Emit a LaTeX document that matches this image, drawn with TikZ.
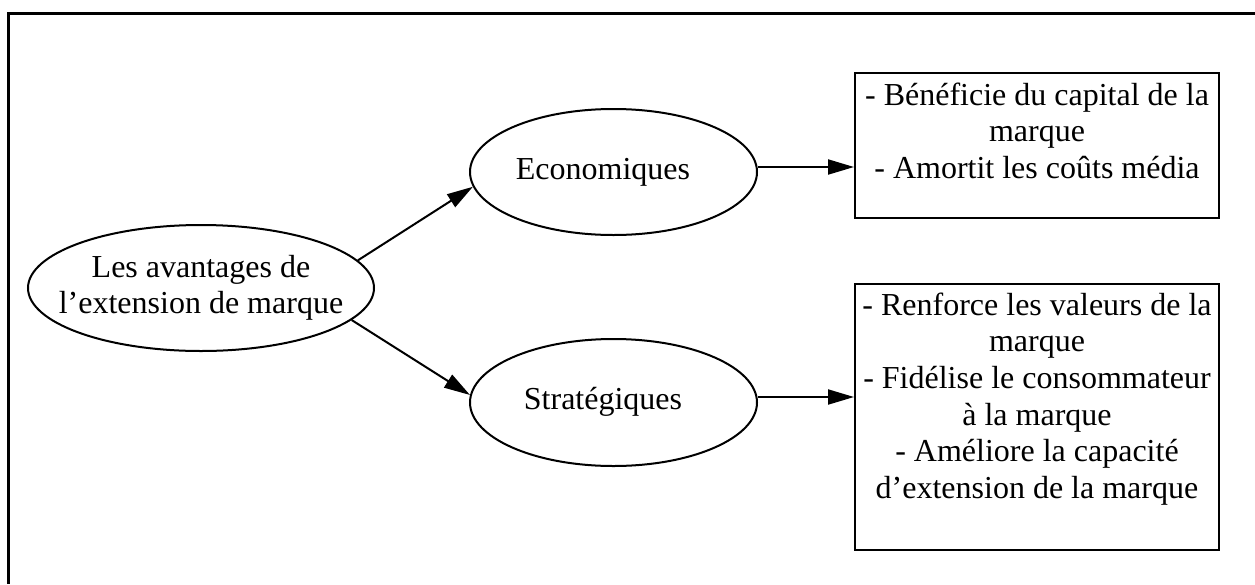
\documentclass[tikz,border=0pt]{standalone}
\usepackage{fontspec}
\setmainfont{Liberation Serif}
\usetikzlibrary{arrows.meta,shapes.geometric}
\begin{document}
\begin{tikzpicture}[x=1pt,y=-1pt,
  every node/.style={font=\fontsize{32}{36.6}\selectfont},
  oval/.style={ellipse, draw, line width=2pt, inner sep=0pt, align=center},
  boxframe/.style={rectangle, draw, line width=2pt, minimum width=364pt, anchor=north west, inner sep=0pt},
  boxtext/.style={anchor=north, align=center, inner sep=0pt},
  arr/.style={line width=2pt, -{Triangle[length=26pt,width=15pt]}},
  frame/.style={line width=3pt}
]
\useasboundingbox (0,0) rectangle (1255,584);
% outer frame (only top and left edges are visible)
\draw[frame] (1255,13) -- (8,13) -- (8,584);

% ellipses
\node[oval, inner xsep=-30pt, minimum width=346pt, minimum height=126pt] (L) at (201,288)
  {\strut Les avantages de\\\strut l’extension de marque};
\node[oval, inner xsep=-20pt, minimum width=287pt, minimum height=126pt] (E) at (613.5,172)
  {\strut Economiques\kern21pt};
\node[oval, inner xsep=-20pt, minimum width=287pt, minimum height=127pt] (S) at (613.5,402.5)
  {\strut Stratégiques\kern21pt};

% boxes
\node[boxframe, minimum height=145pt] (B1) at (854,72) {};
\node[boxtext, yshift=-7.4pt] (T1) at (B1.north)
  {\strut- Bénéficie du capital de la\\\strut marque\\\strut- Amortit les coûts média};
\node[boxframe, minimum height=266pt] (B2) at (854,283) {};
\node[boxtext, yshift=-6.4pt] (T2) at (B2.north)
  {\strut- Renforce les valeurs de la\\\strut marque\\\strut- Fidélise le consommateur\\\strut à la marque\\\strut- Améliore la capacité\\\strut d’extension de la marque};

% connectors
\draw[arr] (L.10) -- (E.186);
\draw[arr] (L.-12) -- (S.177);
\draw[arr] ([yshift=5pt]E.east) -- ([yshift=5pt]E.east -| B1.west);
\draw[arr] ([yshift=5.5pt]S.east) -- ([yshift=5.5pt]S.east -| B2.west);
\end{tikzpicture}
\end{document}
